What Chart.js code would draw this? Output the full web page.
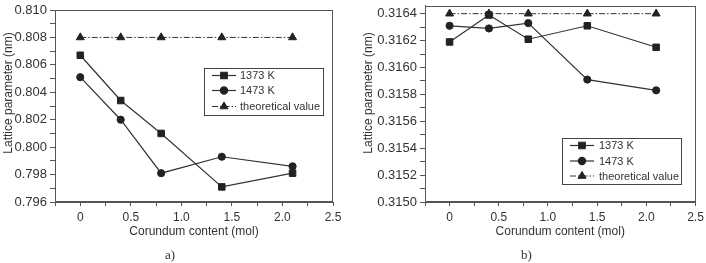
<!DOCTYPE html>
<html>
<head>
<meta charset="utf-8">
<script src="https://cdn.jsdelivr.net/npm/chart.js@4.4.0/dist/chart.umd.min.js"></script>
<style>
    body { margin: 0; background: #fff; }
    #wrap { position: relative; width: 706px; height: 263px; }
    .panel { position: absolute; top: 0; width: 353px; height: 263px; }
    .cap { position: absolute; top: 247px; font: 13px "Liberation Serif", serif; color: #333; }
</style>
</head>
<body>
<div id="wrap">
    <div class="panel" style="left:0"><canvas id="chartA"></canvas></div>
    <div class="panel" style="left:353px"><canvas id="chartB"></canvas></div>
    <div class="cap" style="left:165px">a)</div>
    <div class="cap" style="left:521px">b)</div>
</div>
<script>
// Data
const corundum = [0, 0.4, 0.8, 1.4, 2.1];
const seriesLabels = ['1373 K', '1473 K', 'theoretical value'];

const latticeA_1373 = [0.8067, 0.8034, 0.8010, 0.7971, 0.7981];
const latticeA_1473 = [0.8051, 0.8020, 0.7981, 0.7993, 0.7986];
const latticeA_theory = [0.8080, 0.8080, 0.8080, 0.8080, 0.8080];

const latticeB_1373 = [0.31619, 0.31639, 0.31621, 0.31631, 0.31615];
const latticeB_1473 = [0.31631, 0.31629, 0.31633, 0.31591, 0.31583];
const latticeB_theory = [0.31640, 0.31640, 0.31640, 0.31640, 0.31640];

const axisColor = '#555';
const textColor = '#333';
const fontFamily = '"Liberation Sans", Arial, sans-serif';

const toPoints = (ys) => ys.map((y, i) => ({ x: corundum[i], y: y }));

function makeDatasets(s1373, s1473, sTheory) {
    return [
        {
            label: seriesLabels[0], data: toPoints(s1373),
            borderColor: '#333', borderWidth: 1.2,
            pointStyle: 'rect', pointRadius: 4.6,
            pointBackgroundColor: '#222', pointBorderColor: '#222', pointBorderWidth: 1
        },
        {
            label: seriesLabels[1], data: toPoints(s1473),
            borderColor: '#333', borderWidth: 1.2,
            pointStyle: 'circle', pointRadius: 3.6,
            pointBackgroundColor: '#222', pointBorderColor: '#222', pointBorderWidth: 1
        },
        {
            label: seriesLabels[2], data: toPoints(sTheory),
            borderColor: '#333', borderWidth: 1, borderDash: [6, 2, 1.5, 2],
            pointStyle: 'triangle', pointRadius: 4.6,
            pointBackgroundColor: '#222', pointBorderColor: '#222', pointBorderWidth: 1
        }
    ];
}

// Box round the plot area
const frame = {
    id: 'frame',
    afterDraw(chart) {
        const { ctx, chartArea: a } = chart;
        ctx.save();
        ctx.strokeStyle = axisColor;
        ctx.lineWidth = 1;
        ctx.strokeRect(Math.round(a.left) + 0.5, Math.round(a.top) + 0.5,
            Math.round(a.right - a.left) - 1, Math.round(a.bottom - a.top) - 1);
        ctx.restore();
    }
};

// y title sits a little above the middle of the axis in the original
const yTitle = {
    id: 'yTitle',
    afterDraw(chart, args, o) {
        const ctx = chart.ctx;
        ctx.save();
        ctx.translate(o.x, o.y);
        ctx.rotate(-Math.PI / 2);
        ctx.fillStyle = textColor;
        ctx.font = '12px ' + fontFamily;
        ctx.textAlign = 'center';
        ctx.textBaseline = 'middle';
        ctx.fillText(chart.options.scales.y.title.text, 0, 0);
        ctx.restore();
    }
};

// Legend drawn inside the plot, in a box
const boxLegend = {
    id: 'boxLegend',
    afterDraw(chart, args, o) {
        const ctx = chart.ctx;
        ctx.save();
        ctx.strokeStyle = '#444';
        ctx.lineWidth = 1;
        ctx.strokeRect(o.x + 0.5, o.y + 0.5, o.w, o.h);
        chart.data.datasets.forEach((ds, i) => {
            const cy = o.rows[i];
            ctx.strokeStyle = ds.borderColor;
            ctx.lineWidth = ds.borderWidth;
            ctx.setLineDash(ds.borderDash || []);
            ctx.beginPath();
            ctx.moveTo(o.lineX0, cy);
            ctx.lineTo(o.lineX1, cy);
            ctx.stroke();
            ctx.setLineDash([]);
            ctx.fillStyle = ds.pointBackgroundColor;
            ctx.strokeStyle = ds.pointBorderColor;
            Chart.helpers.drawPoint(ctx, {
                pointStyle: ds.pointStyle, radius: ds.pointRadius, borderWidth: 1, rotation: 0
            }, (o.lineX0 + o.lineX1) / 2, cy);
            ctx.fillStyle = textColor;
            ctx.font = '11px ' + fontFamily;
            ctx.textBaseline = 'middle';
            ctx.fillText(ds.label, o.textX, cy + 0.5);
        });
        ctx.restore();
    }
};

function xLabel(v) {
    const k = Math.round(v * 4);
    if (k % 2 !== 0) return '';
    return k === 0 ? '0' : (k / 4).toFixed(1);
}

function makeConfig(datasets, y, layout, legend, ytitle) {
    return {
        type: 'line',
        data: { datasets: datasets },
        plugins: [frame, boxLegend, yTitle],
        options: {
            responsive: true,
            maintainAspectRatio: false,
            animation: false,
            layout: { padding: layout.padding },
            plugins: {
                legend: { display: false },
                tooltip: { enabled: false },
                boxLegend: legend,
                yTitle: ytitle
            },
            scales: {
                x: {
                    type: 'linear', min: -0.25, max: 2.5,
                    ticks: {
                        stepSize: 0.25, autoSkip: false, maxRotation: 0,
                        padding: 4, color: textColor,
                        font: { family: fontFamily, size: 12 },
                        callback: xLabel
                    },
                    grid: { drawOnChartArea: false, tickLength: 4, color: axisColor },
                    border: { color: axisColor },
                    title: {
                        display: true, text: 'Corundum content (mol)', color: textColor,
                        font: { family: fontFamily, size: 12 },
                        padding: { top: 0, bottom: 24 }
                    },
                    afterFit(s) { s.height = 61; s.paddingLeft = 0; s.paddingRight = 0; }
                },
                y: {
                    min: y.min, max: y.max,
                    ticks: {
                        stepSize: y.step, autoSkip: false, includeBounds: false,
                        padding: 3, color: textColor,
                        font: { family: fontFamily, size: 13 },
                        callback: y.label
                    },
                    grid: { drawOnChartArea: false, tickLength: 5, color: axisColor },
                    border: { color: axisColor },
                    title: { display: false, text: 'Lattice parameter (nm)' },
                    afterFit(s) { s.width = y.width; s.paddingTop = 0; s.paddingBottom = 0; }
                }
            }
        }
    };
}

new Chart(document.getElementById('chartA'), makeConfig(
    makeDatasets(latticeA_1373, latticeA_1473, latticeA_theory),
    {
        min: 0.796, max: 0.810, step: 0.001, width: 55,
        label: (v) => { const k = Math.round(v * 1000); return k % 2 === 0 ? (k / 1000).toFixed(3) : ''; }
    },
    { padding: { top: 10, right: 20, bottom: 0, left: 0 } },
    { x: 204, y: 68, w: 119, h: 47, rows: [75.5, 90.5, 106.5], lineX0: 212, lineX1: 236, textX: 240 },
    { x: 8.5, y: 93 }
));

new Chart(document.getElementById('chartB'), makeConfig(
    makeDatasets(latticeB_1373, latticeB_1473, latticeB_theory),
    {
        min: 0.3150, max: 0.31646, step: 0.0001, width: 72,
        label: (v) => { const k = Math.round(v * 10000); return k % 2 === 0 ? (k / 10000).toFixed(4) : ''; }
    },
    { padding: { top: 2, right: 10.5, bottom: 0, left: 0 } },
    { x: 209, y: 138, w: 119, h: 46, rows: [145.5, 161, 176], lineX0: 217, lineX1: 241, textX: 246 },
    { x: 15.5, y: 93 }
));
</script>
</body>
</html>
